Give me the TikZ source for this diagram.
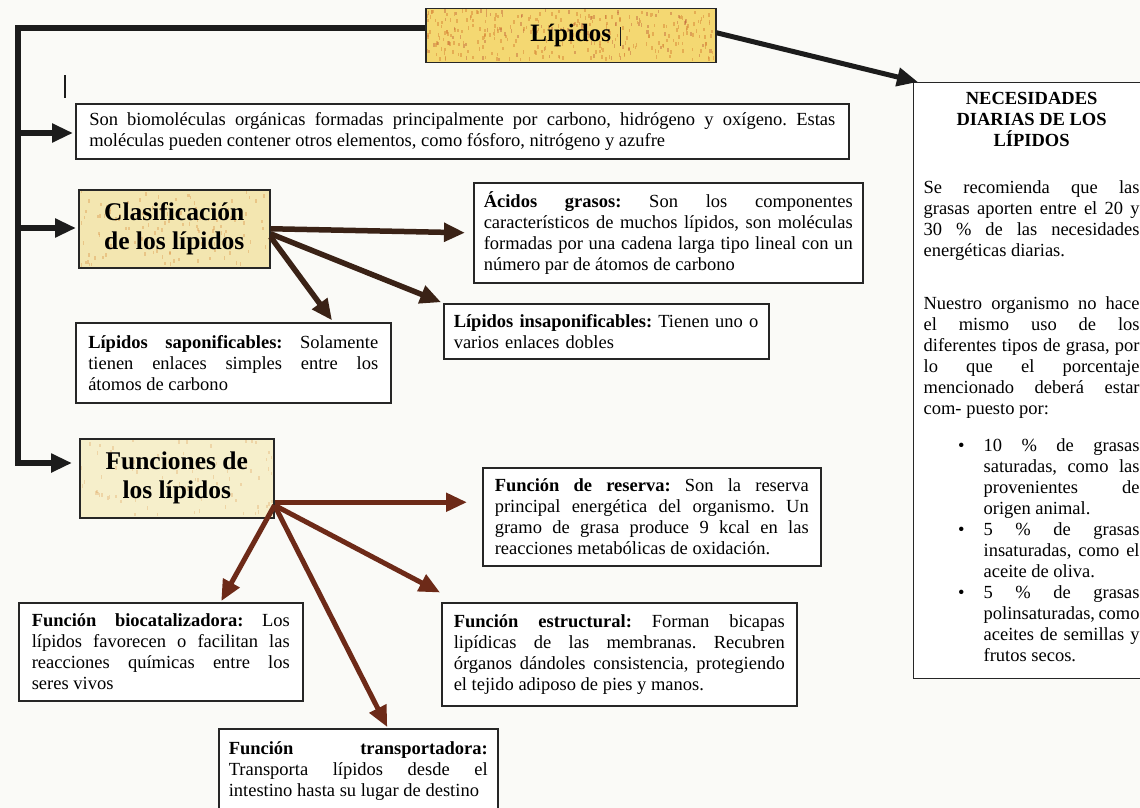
\documentclass[tikz,border=0pt]{standalone}
\usepackage{fontspec}
\setmainfont{Liberation Serif}
\usetikzlibrary{arrows.meta,backgrounds}

\definecolor{ink}{HTML}{1C1C1C}
\definecolor{boxline}{HTML}{262626}
\definecolor{clasarrow}{HTML}{3A2216}
\definecolor{funarrow}{HTML}{6D2A18}
\definecolor{goldA}{HTML}{F4D872}
\definecolor{goldB}{HTML}{F3E6B0}
\definecolor{goldC}{HTML}{F6EFCB}
\definecolor{fleck}{HTML}{D98A3A}
\definecolor{fleckred}{HTML}{C0603A}
\definecolor{paper}{HTML}{FAFAF7}

% no hyphenation anywhere: every line break is given explicitly
\hyphenpenalty=10000\relax
\exhyphenpenalty=10000\relax

% scattered specks for the textured title boxes: x, y, w, h, count, opacity, colour
\newcommand\scanflecks[7]{%
  \foreach \k in {1,...,#5}{%
    \pgfmathsetmacro\sx{#1+(#3-2)*rnd}%
    \pgfmathsetmacro\sy{#2+(#4-4)*rnd}%
    \fill[#7, opacity=#6] (\sx,\sy) rectangle ++(1.6,3.6);
  }}

% one bullet entry of the right-hand panel
\newcommand\necitem[1]{{\leftskip=60pt\noindent\llap{\textbullet\hspace{19pt}}#1\par}}

\tikzset{
  txtbox/.style={draw=boxline, line width=1.5pt, anchor=north west,
    inner ysep=0pt, align=justify, font=\fontsize{18.5}{21}\selectfont\frenchspacing},
  headbox/.style={draw=boxline, line width=1.5pt, anchor=north west,
    inner sep=0pt, align=center, font=\fontsize{25.5}{29}\selectfont\bfseries},
  trunk/.style={draw=ink, line width=6pt},
  tip/.style={-{Triangle[length=21pt,width=18pt]}},
  trunkarrow/.style={trunk, tip},
  clasline/.style={draw=clasarrow, line width=5.5pt, tip},
  funline/.style={draw=funarrow, line width=5pt, tip},
}

\begin{document}
\begin{tikzpicture}[x=1pt, y=-1pt]
\useasboundingbox (0,0) rectangle (1140,808);

% title boxes
\node[headbox, minimum width=290pt, minimum height=54pt, font=\fontsize{25}{29}\selectfont\bfseries]
  (lip) at (425,8) {Lípidos};
\node[headbox, minimum width=191pt, minimum height=78pt] (clas) at (78,189)
  {Clasificación\\de los lípidos};
\node[headbox, minimum width=194pt, minimum height=79pt] (fun) at (79,438)
  {Funciones de\\los lípidos};

% text boxes
\node[txtbox, text width=746pt, inner xsep=13.5pt, minimum height=55pt] (son) at (75,103)
  {Son biomoléculas orgánicas formadas principalmente por carbono, hidrógeno y oxígeno. Estas\linebreak
   moléculas pueden contener otros elementos, como fósforo, nitrógeno y azufre};

\node[txtbox, text width=369pt, inner xsep=10pt, minimum height=100pt] (acid) at (473,182)
  {\textbf{Ácidos grasos:} Son los componentes\linebreak
   característicos de muchos lípidos, son moléculas\linebreak
   formadas por una cadena larga tipo lineal con un\linebreak
   número par de átomos de carbono};

\node[txtbox, text width=290pt, inner xsep=12.5pt, minimum height=80pt] (sap) at (75,322)
  {\textbf{Lípidos saponificables:} Solamente\linebreak
   tienen enlaces simples entre los\linebreak
   átomos de carbono};

\node[txtbox, align=left, text width=305pt, inner xsep=10pt, minimum height=55pt] (insap) at (443,303)
  {\textbf{Lípidos insaponificables:} Tienen uno o\\
   varios enlaces dobles};

\node[txtbox, text width=314pt, inner xsep=12pt, minimum height=98pt] (res) at (482,467)
  {\textbf{Función de reserva:} Son la reserva\linebreak
   principal energética del organismo. Un\linebreak
   gramo de grasa produce 9 kcal en las\linebreak
   reacciones metabólicas de oxidación.};

\node[txtbox, text width=258pt, inner xsep=13pt, minimum height=98pt] (bio) at (18,602)
  {\textbf{Función biocatalizadora:} Los\linebreak
   lípidos favorecen o facilitan las\linebreak
   reacciones químicas entre los\linebreak
   seres vivos};

\node[txtbox, text width=331pt, inner xsep=12pt, minimum height=103pt] (est) at (441,602)
  {\textbf{Función estructural:} Forman bicapas\linebreak
   lipídicas de las membranas. Recubren\linebreak
   órganos dándoles consistencia, protegiendo\linebreak
   el tejido adiposo de pies y manos.};

\node[txtbox, text width=259pt, inner xsep=10pt, minimum height=84pt] (tra) at (218,728)
  {\textbf{Función transportadora:}\linebreak
   Transporta lípidos desde el\linebreak
   intestino hasta su lugar de destino};

% right-hand panel
\node[draw=boxline, line width=1.2pt, anchor=north west, inner sep=10pt] (nec) at (913,82)
  {\parbox[c][576pt][t]{216pt}{\fontsize{18.5}{21}\selectfont\frenchspacing
   {\centering\bfseries NECESIDADES\\ DIARIAS DE LOS\\ LÍPIDOS\par}
   \vspace{26pt}
   Se recomienda que las\linebreak
   grasas aporten entre el 20 y\linebreak
   30 \% de las necesidades\linebreak
   energéticas diarias.\par
   \vspace{32pt}
   Nuestro organismo no hace\linebreak
   el mismo uso de los\linebreak
   diferentes tipos de grasa, por\linebreak
   lo que el porcentaje\linebreak
   mencionado deberá estar\linebreak
   com- puesto por:\par
   \vspace{16pt}
   \necitem{10 \% de grasas\linebreak saturadas, como las\linebreak provenientes de\linebreak origen animal.}
   \necitem{5 \% de grasas\linebreak insaturadas, como el\linebreak aceite de oliva.}
   \necitem{5 \% de grasas\linebreak polinsaturadas, como\linebreak aceites de semillas y\linebreak frutos secos.}
  }};

% main trunk from the title down the left side
\coordinate (bend) at (18,463);
\coordinate (j1) at (18,133);
\coordinate (j2) at (18,228);
\draw[trunkarrow] ([yshift=8pt]lip.west) -| (bend) -- ([xshift=-7pt]bend -| fun.west);
\draw[trunkarrow] (j1) -- ([xshift=-2pt]j1 -| son.west);
\draw[trunkarrow] (j2) -- ([xshift=-2pt]j2 -| clas.west);
\draw[trunkarrow, line width=5pt] ([yshift=3pt]lip.east) -- ([xshift=5pt]nec.north west);

% classification branches
\draw[clasline] (clas.east) -- ([xshift=-8pt]acid.west);
\draw[clasline, shorten >=2pt] ([yshift=-5pt]clas.east) -- (insap.north west);
\draw[clasline, shorten >=2pt] ([yshift=-8pt]clas.east) -- ([xshift=100pt]sap.north);

% function branches
\coordinate (ff) at ([yshift=-24pt]fun.east);
\draw[funline, shorten >=15pt] (ff) -- (ff -| res.west);
\draw[funline, shorten >=1pt] ([yshift=-3pt]ff) -- ([xshift=60pt]bio.north);
\draw[funline, shorten >=1pt] ([yshift=-3pt]ff) -- ([yshift=9pt]est.north west);
\draw[funline, shorten >=1pt] ([yshift=-3pt]ff) -- ([xshift=29.5pt]tra.north);

% small pen marks
\draw[ink, line width=1.6pt] (65,75) -- (65,98);
\draw[ink, line width=1pt] (620,27) -- (620,46);

% paper and textured fills behind everything
\begin{scope}[on background layer]
  \fill[paper] (0,0) rectangle (1140,808);
  \foreach \n in {son,acid,sap,insap,res,bio,est,tra,nec}{
    \fill[white] (\n.north west) rectangle (\n.south east);
  }
  \fill[goldA] (lip.north west) rectangle (lip.south east);
  \fill[goldB] (clas.north west) rectangle (clas.south east);
  \fill[goldC] (fun.north west) rectangle (fun.south east);
  \pgfmathsetseed{42}
  \scanflecks{425}{8}{290}{54}{260}{0.55}{fleck}
  \scanflecks{425}{8}{290}{54}{90}{0.45}{fleckred}
  \scanflecks{78}{189}{191}{78}{120}{0.35}{fleck}
  \scanflecks{79}{438}{194}{79}{80}{0.25}{fleck}
\end{scope}
\end{tikzpicture}
\end{document}
